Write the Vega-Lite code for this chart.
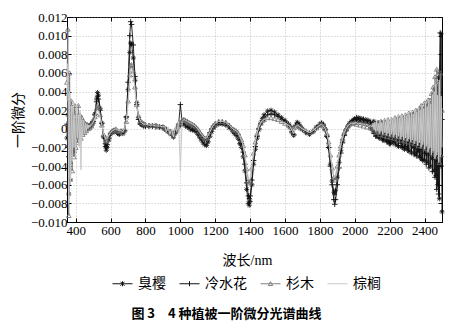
{
"$schema":"https://vega.github.io/schema/vega-lite/v6.json",
"width":375,"height":205,
"autosize":{"type":"none"},
"padding":{"left":67,"top":17,"right":10,"bottom":109},
"background":"white",
"config":{"view":{"stroke":"#000","strokeWidth":1},"font":"Liberation Serif"},
"title":{"text":"图 3　4 种植被一阶微分光谱曲线","orient":"bottom","anchor":"middle","dx":-28,"offset":17,"font":"Noto Sans CJK SC","fontSize":13,"fontWeight":"bold","color":"#000"},
"data":{"values":[
{"w":350,"臭樱":-0.001,"冷水花":0.0005,"杉木":0.005,"棕榈":0.003},
{"w":355,"臭樱":0.0015,"冷水花":-0.002,"杉木":0.0107,"棕榈":0.007},
{"w":360,"臭樱":-0.007,"冷水花":-0.003,"杉木":-0.0093,"棕榈":-0.008},
{"w":365,"臭樱":0.002,"冷水花":0.0015,"杉木":0.006,"棕榈":0.004},
{"w":370,"臭樱":-0.0055,"冷水花":-0.002,"杉木":-0.0035,"棕榈":-0.006},
{"w":375,"臭樱":0.001,"冷水花":0.0025,"杉木":0.003,"棕榈":0.0025},
{"w":380,"臭樱":-0.0025,"冷水花":-0.0015,"杉木":-0.0045,"棕榈":-0.0035},
{"w":385,"臭樱":0.0015,"冷水花":0.0005,"杉木":0.002,"棕榈":0.003},
{"w":390,"臭樱":-0.0015,"冷水花":-0.0025,"杉木":-0.003,"棕榈":-0.002},
{"w":395,"臭樱":0.0005,"冷水花":0.001,"杉木":0.0025,"棕榈":0.0015},
{"w":400,"臭樱":-0.001,"冷水花":-0.0005,"杉木":-0.002,"棕榈":-0.003},
{"w":405,"臭樱":0.001,"冷水花":0.0005,"杉木":0.0015,"棕榈":0.0025},
{"w":410,"臭樱":-0.0008,"冷水花":-0.001,"杉木":-0.0015,"棕榈":-0.001},
{"w":415,"臭樱":0.0006,"冷水花":0.0008,"杉木":0.0025,"棕榈":0.0015},
{"w":420,"臭樱":-0.0005,"冷水花":-0.0004,"杉木":-0.0012,"棕榈":-0.002},
{"w":425,"臭樱":0.0008,"冷水花":0.0005,"杉木":0.0015,"棕榈":0.002},
{"w":430,"臭樱":-0.0003,"冷水花":-0.0006,"杉木":-0.001,"棕榈":-0.0044},
{"w":435,"臭樱":0.0005,"冷水花":0.0003,"杉木":0.0012,"棕榈":0.001},
{"w":440,"臭樱":-0.0002,"冷水花":-0.0002,"杉木":-0.0006,"棕榈":-0.0008},
{"w":445,"臭樱":0.0004,"冷水花":0.0005,"杉木":0.0008,"棕榈":0.0008},
{"w":450,"臭樱":-0.0001,"冷水花":-0.0002,"杉木":-0.0004,"棕榈":-0.0005},
{"w":455,"臭樱":0.0003,"冷水花":0.0003,"杉木":0.0006,"棕榈":0.0006},
{"w":460,"臭樱":0,"冷水花":0,"杉木":-0.0002,"棕榈":-0.0003},
{"w":465,"臭樱":0.0003,"冷水花":0.0003,"杉木":0.0005,"棕榈":0.0005},
{"w":470,"臭樱":0.0001,"冷水花":0.0001,"杉木":0,"棕榈":0},
{"w":475,"臭樱":0.0003,"冷水花":0.0003,"杉木":0.0004,"棕榈":0.0004},
{"w":480,"臭樱":0.0002,"冷水花":0.0002,"杉木":0.0001,"棕榈":0.0002},
{"w":485,"臭樱":0.0004,"冷水花":0.0004,"杉木":0.0004,"棕榈":0.0004},
{"w":490,"臭樱":0.0004,"冷水花":0.0004,"杉木":0.0003,"棕榈":0.0004},
{"w":495,"臭樱":0.0006,"冷水花":0.0006,"杉木":0.0006,"棕榈":0.0005},
{"w":500,"臭樱":0.0008,"冷水花":0.0008,"杉木":0.0008,"棕榈":0.0007},
{"w":510,"臭樱":0.0016,"冷水花":0.0015,"杉木":0.0013,"棕榈":0.0011},
{"w":520,"臭樱":0.0032,"冷水花":0.0029,"杉木":0.0022,"棕榈":0.0018},
{"w":525,"臭樱":0.0039,"冷水花":0.0035,"杉木":0.0025,"棕榈":0.002},
{"w":530,"臭樱":0.0036,"冷水花":0.0032,"杉木":0.0023,"棕榈":0.0019},
{"w":540,"臭樱":0.0022,"冷水花":0.002,"杉木":0.0015,"棕榈":0.0013},
{"w":550,"臭樱":0.0006,"冷水花":0.0006,"杉木":0.0004,"棕榈":0.0004},
{"w":560,"臭樱":-0.0009,"冷水花":-0.0008,"杉木":-0.0006,"棕榈":-0.0005},
{"w":570,"臭樱":-0.0019,"冷水花":-0.0016,"杉木":-0.0012,"棕榈":-0.001},
{"w":575,"臭樱":-0.0023,"冷水花":-0.0019,"杉木":-0.0013,"棕榈":-0.0011},
{"w":580,"臭樱":-0.002,"冷水花":-0.0017,"杉木":-0.0012,"棕榈":-0.001},
{"w":590,"臭樱":-0.0012,"冷水花":-0.001,"杉木":-0.0008,"棕榈":-0.0007},
{"w":600,"臭樱":-0.0006,"冷水花":-0.0005,"杉木":-0.0004,"棕榈":-0.0004},
{"w":610,"臭樱":-0.0004,"冷水花":-0.0003,"杉木":-0.0002,"棕榈":-0.0002},
{"w":620,"臭樱":-0.0003,"冷水花":-0.0002,"杉木":-0.0001,"棕榈":-0.0001},
{"w":630,"臭樱":-0.0002,"冷水花":-0.0002,"杉木":0,"棕榈":0},
{"w":640,"臭樱":-0.0005,"冷水花":-0.0004,"杉木":-0.0002,"棕榈":-0.0001},
{"w":650,"臭樱":-0.0006,"冷水花":-0.0005,"杉木":-0.0003,"棕榈":-0.0002},
{"w":660,"臭樱":-0.0004,"冷水花":-0.0003,"杉木":-0.0002,"棕榈":-0.0002},
{"w":670,"臭樱":-0.0005,"冷水花":-0.0004,"杉木":-0.0004,"棕榈":-0.0003},
{"w":680,"臭樱":-0.0002,"冷水花":-0.0002,"杉木":-0.0001,"棕榈":0},
{"w":690,"臭樱":0.0012,"冷水花":0.0013,"杉木":0.0008,"棕榈":0.0008},
{"w":700,"臭樱":0.0042,"冷水花":0.005,"杉木":0.003,"棕榈":0.0028},
{"w":710,"臭樱":0.0082,"冷水花":0.01,"杉木":0.0058,"棕榈":0.0055},
{"w":715,"臭樱":0.0092,"冷水花":0.0115,"杉木":0.0068,"棕榈":0.0064},
{"w":720,"臭樱":0.0091,"冷水花":0.0112,"杉木":0.0069,"棕榈":0.0065},
{"w":730,"臭樱":0.0076,"冷水花":0.009,"杉木":0.0062,"棕榈":0.0058},
{"w":740,"臭樱":0.0052,"冷水花":0.0056,"杉木":0.0045,"棕榈":0.0041},
{"w":750,"臭樱":0.0028,"冷水花":0.0026,"杉木":0.0026,"棕榈":0.0024},
{"w":760,"臭樱":0.0012,"冷水花":0.001,"杉木":0.0014,"棕榈":0.0013},
{"w":770,"臭樱":0.0006,"冷水花":0.0005,"杉木":0.0009,"棕榈":0.0008},
{"w":780,"臭樱":0.0005,"冷水花":0.0004,"杉木":0.0007,"棕榈":0.0006},
{"w":790,"臭樱":0.0004,"冷水花":0.0003,"杉木":0.0006,"棕榈":0.0005},
{"w":800,"臭樱":0.0003,"冷水花":0.0003,"杉木":0.0005,"棕榈":0.0005},
{"w":820,"臭樱":0.0003,"冷水花":0.0003,"杉木":0.0004,"棕榈":0.0004},
{"w":840,"臭樱":0.0003,"冷水花":0.0003,"杉木":0.0004,"棕榈":0.0004},
{"w":860,"臭樱":0.0003,"冷水花":0.0002,"杉木":0.0004,"棕榈":0.0003},
{"w":880,"臭樱":0.0002,"冷水花":0.0002,"杉木":0.0003,"棕榈":0.0003},
{"w":900,"臭樱":0.0002,"冷水花":0.0001,"杉木":0.0002,"棕榈":0.0002},
{"w":910,"臭樱":0,"冷水花":0,"杉木":0.0001,"棕榈":0.0003},
{"w":920,"臭樱":-0.0001,"冷水花":-0.0001,"杉木":0,"棕榈":-0.0003},
{"w":930,"臭樱":-0.0003,"冷水花":-0.0002,"杉木":-0.0002,"棕榈":0.0002},
{"w":940,"臭樱":-0.0005,"冷水花":-0.0003,"杉木":-0.0003,"棕榈":-0.0006},
{"w":950,"臭樱":-0.0006,"冷水花":-0.0004,"杉木":-0.0004,"棕榈":0},
{"w":960,"臭樱":-0.0009,"冷水花":-0.0005,"杉木":-0.0005,"棕榈":-0.0009},
{"w":970,"臭樱":-0.0005,"冷水花":-0.0003,"杉木":-0.0002,"棕榈":0.0002},
{"w":980,"臭樱":-0.0002,"冷水花":0,"杉木":0.0002,"棕榈":-0.0003},
{"w":990,"臭樱":0.0003,"冷水花":0.0005,"杉木":0.0006,"棕榈":0.0008},
{"w":1000,"臭樱":0.0004,"冷水花":0.0026,"杉木":0.0007,"棕榈":-0.0045},
{"w":1010,"臭樱":0.0005,"冷水花":0.0008,"杉木":0.0009,"棕榈":0.0008},
{"w":1020,"臭樱":0.0006,"冷水花":0.0009,"杉木":0.001,"棕榈":0.001},
{"w":1030,"臭樱":0.0003,"冷水花":0.0008,"杉木":0.0009,"棕榈":0.0009},
{"w":1040,"臭樱":0.0002,"冷水花":0.0007,"杉木":0.0008,"棕榈":0.0008},
{"w":1050,"臭樱":0.0001,"冷水花":0.0005,"杉木":0.0007,"棕榈":0.0007},
{"w":1060,"臭樱":-0.0001,"冷水花":0.0004,"杉木":0.0006,"棕榈":0.0006},
{"w":1070,"臭樱":-0.0001,"冷水花":0.0003,"杉木":0.0005,"棕榈":0.0005},
{"w":1080,"臭樱":-0.0002,"冷水花":0.0002,"杉木":0.0004,"棕榈":0.0004},
{"w":1090,"臭樱":-0.0003,"冷水花":0,"杉木":0.0002,"棕榈":0.0002},
{"w":1100,"臭樱":-0.0006,"冷水花":-0.0003,"杉木":0,"棕榈":0},
{"w":1110,"臭樱":-0.0009,"冷水花":-0.0005,"杉木":-0.0003,"棕榈":-0.0003},
{"w":1120,"臭樱":-0.0012,"冷水花":-0.0008,"杉木":-0.0006,"棕榈":-0.0006},
{"w":1130,"臭樱":-0.0015,"冷水花":-0.001,"杉木":-0.0008,"棕榈":-0.0008},
{"w":1140,"臭樱":-0.0017,"冷水花":-0.0012,"杉木":-0.001,"棕榈":-0.001},
{"w":1150,"臭樱":-0.0018,"冷水花":-0.0012,"杉木":-0.001,"棕榈":-0.001},
{"w":1160,"臭樱":-0.0014,"冷水花":-0.0009,"杉木":-0.0007,"棕榈":-0.0007},
{"w":1170,"臭樱":-0.0008,"冷水花":-0.0004,"杉木":-0.0003,"棕榈":-0.0003},
{"w":1180,"臭樱":-0.0003,"冷水花":0,"杉木":0.0001,"棕榈":0.0001},
{"w":1190,"臭樱":0.0001,"冷水花":0.0003,"杉木":0.0004,"棕榈":0.0004},
{"w":1200,"臭樱":0.0003,"冷水花":0.0005,"杉木":0.0006,"棕榈":0.0006},
{"w":1220,"臭樱":0.0005,"冷水花":0.0007,"杉木":0.0008,"棕榈":0.0008},
{"w":1240,"臭樱":0.0005,"冷水花":0.0007,"杉木":0.0008,"棕榈":0.0008},
{"w":1260,"臭樱":0.0004,"冷水花":0.0006,"杉木":0.0007,"棕榈":0.0007},
{"w":1280,"臭樱":0.0001,"冷水花":0.0003,"杉木":0.0004,"棕榈":0.0004},
{"w":1300,"臭樱":-0.0003,"冷水花":-0.0001,"杉木":0,"棕榈":0},
{"w":1310,"臭樱":-0.0005,"冷水花":-0.0002,"杉木":-0.0001,"棕榈":-0.0001},
{"w":1320,"臭樱":-0.0007,"冷水花":-0.0004,"杉木":-0.0002,"棕榈":-0.0002},
{"w":1330,"臭樱":-0.001,"冷水花":-0.0006,"杉木":-0.0004,"棕榈":-0.0004},
{"w":1340,"臭樱":-0.0016,"冷水花":-0.0012,"杉木":-0.0008,"棕榈":-0.0008},
{"w":1350,"臭樱":-0.002,"冷水花":-0.0016,"杉木":-0.0012,"棕榈":-0.0012},
{"w":1360,"臭樱":-0.003,"冷水花":-0.0025,"杉木":-0.0018,"棕榈":-0.0018},
{"w":1370,"臭樱":-0.0045,"冷水花":-0.0038,"杉木":-0.0028,"棕榈":-0.0028},
{"w":1380,"臭樱":-0.0065,"冷水花":-0.0058,"杉木":-0.0043,"棕榈":-0.0042},
{"w":1390,"臭樱":-0.008,"冷水花":-0.0072,"杉木":-0.0056,"棕榈":-0.0053},
{"w":1395,"臭樱":-0.0082,"冷水花":-0.0075,"杉木":-0.0058,"棕榈":-0.0055},
{"w":1400,"臭樱":-0.0078,"冷水花":-0.0072,"杉木":-0.0056,"棕榈":-0.0053},
{"w":1410,"臭樱":-0.006,"冷水花":-0.0055,"杉木":-0.0042,"棕榈":-0.004},
{"w":1420,"臭樱":-0.0038,"冷水花":-0.0034,"杉木":-0.0026,"棕榈":-0.0025},
{"w":1430,"臭樱":-0.0022,"冷水花":-0.0019,"杉木":-0.0014,"棕榈":-0.0014},
{"w":1440,"臭樱":-0.001,"冷水花":-0.0008,"杉木":-0.0005,"棕榈":-0.0005},
{"w":1450,"臭樱":-0.0001,"冷水花":0,"杉木":0.0002,"棕榈":0.0002},
{"w":1460,"臭樱":0.0006,"冷水花":0.0005,"杉木":0.0006,"棕榈":0.0006},
{"w":1470,"臭樱":0.0011,"冷水花":0.0009,"杉木":0.0009,"棕榈":0.0009},
{"w":1480,"臭樱":0.0015,"冷水花":0.0012,"杉木":0.001,"棕榈":0.001},
{"w":1500,"臭樱":0.0019,"冷水花":0.0015,"杉木":0.0012,"棕榈":0.0012},
{"w":1520,"臭樱":0.002,"冷水花":0.0016,"杉木":0.0012,"棕榈":0.0012},
{"w":1540,"臭樱":0.0018,"冷水花":0.0015,"杉木":0.0011,"棕榈":0.0011},
{"w":1560,"臭樱":0.0015,"冷水花":0.0013,"杉木":0.001,"棕榈":0.001},
{"w":1580,"臭樱":0.0012,"冷水花":0.001,"杉木":0.0008,"棕榈":0.0008},
{"w":1600,"臭樱":0.0009,"冷水花":0.0008,"杉木":0.0006,"棕榈":0.0006},
{"w":1620,"臭樱":0.0005,"冷水花":0.0005,"杉木":0.0004,"棕榈":0.0004},
{"w":1630,"臭樱":0.0002,"冷水花":0.0002,"杉木":0.0002,"棕榈":0.0002},
{"w":1640,"臭樱":-0.0004,"冷水花":-0.0003,"杉木":-0.0002,"棕榈":-0.0002},
{"w":1650,"臭樱":-0.0007,"冷水花":-0.0006,"杉木":-0.0005,"棕榈":-0.0005},
{"w":1660,"臭樱":0.0003,"冷水花":0.0003,"杉木":0.0002,"棕榈":0.0002},
{"w":1670,"臭樱":0.0007,"冷水花":0.0006,"杉木":0.0004,"棕榈":0.0004},
{"w":1680,"臭樱":0.0005,"冷水花":0.0004,"杉木":0.0003,"棕榈":0.0003},
{"w":1690,"臭樱":0.0002,"冷水花":0.0001,"杉木":0.0001,"棕榈":0.0001},
{"w":1700,"臭樱":0,"冷水花":-0.0001,"杉木":0,"棕榈":0},
{"w":1720,"臭樱":-0.0004,"冷水花":-0.0004,"杉木":-0.0002,"棕榈":-0.0002},
{"w":1740,"臭樱":-0.0006,"冷水花":-0.0005,"杉木":-0.0004,"棕榈":-0.0004},
{"w":1760,"臭樱":-0.0003,"冷水花":-0.0003,"杉木":-0.0002,"棕榈":-0.0002},
{"w":1780,"臭樱":0.0002,"冷水花":0.0001,"杉木":0.0001,"棕榈":0.0001},
{"w":1800,"臭樱":0.0005,"冷水花":0.0004,"杉木":0.0004,"棕榈":0.0004},
{"w":1810,"臭樱":0.0006,"冷水花":0.0006,"杉木":0.0005,"棕榈":0.0005},
{"w":1820,"臭樱":0.0004,"冷水花":0.0004,"杉木":0.0003,"棕榈":0.0003},
{"w":1830,"臭樱":0,"冷水花":-0.0001,"杉木":0,"棕榈":0},
{"w":1840,"臭樱":-0.0008,"冷水花":-0.0008,"杉木":-0.0005,"棕榈":-0.0005},
{"w":1850,"臭樱":-0.002,"冷水花":-0.002,"杉木":-0.0014,"棕榈":-0.0013},
{"w":1860,"臭樱":-0.0038,"冷水花":-0.004,"杉木":-0.0028,"棕榈":-0.0027},
{"w":1870,"臭樱":-0.0056,"冷水花":-0.006,"杉木":-0.0042,"棕榈":-0.004},
{"w":1880,"臭樱":-0.0068,"冷水花":-0.0076,"杉木":-0.0052,"棕榈":-0.005},
{"w":1885,"臭樱":-0.007,"冷水花":-0.0081,"杉木":-0.0055,"棕榈":-0.0052},
{"w":1890,"臭樱":-0.0066,"冷水花":-0.0076,"杉木":-0.0052,"棕榈":-0.0049},
{"w":1900,"臭樱":-0.0052,"冷水花":-0.006,"杉木":-0.004,"棕榈":-0.0038},
{"w":1910,"臭樱":-0.0036,"冷水花":-0.0042,"杉木":-0.0028,"棕榈":-0.0027},
{"w":1920,"臭樱":-0.0023,"冷水花":-0.0026,"杉木":-0.0018,"棕榈":-0.0017},
{"w":1930,"臭樱":-0.0013,"冷水花":-0.0015,"杉木":-0.001,"棕榈":-0.001},
{"w":1940,"臭樱":-0.0006,"冷水花":-0.0007,"杉木":-0.0004,"棕榈":-0.0004},
{"w":1950,"臭樱":-0.0001,"冷水花":-0.0002,"杉木":0,"棕榈":0},
{"w":1960,"臭樱":0.0003,"冷水花":0.0002,"杉木":0.0003,"棕榈":0.0003},
{"w":1970,"臭樱":0.0006,"冷水花":0.0005,"杉木":0.0005,"棕榈":0.0005},
{"w":1980,"臭樱":0.0008,"冷水花":0.0007,"杉木":0.0006,"棕榈":0.0006},
{"w":1990,"臭樱":0.0009,"冷水花":0.0009,"杉木":0.0006,"棕榈":0.0006},
{"w":2000,"臭樱":0.0011,"冷水花":0.001,"杉木":0.0007,"棕榈":0.0006},
{"w":2010,"臭樱":0.0008,"冷水花":0.0012,"杉木":0.0005,"棕榈":0.0007},
{"w":2020,"臭樱":0.0012,"冷水花":0.0009,"杉木":0.0007,"棕榈":0.0005},
{"w":2030,"臭樱":0.0007,"冷水花":0.0011,"杉木":0.0004,"棕榈":0.0006},
{"w":2040,"臭樱":0.0011,"冷水花":0.0008,"杉木":0.0007,"棕榈":0.0005},
{"w":2050,"臭樱":0.0006,"冷水花":0.001,"杉木":0.0003,"棕榈":0.0005},
{"w":2060,"臭樱":0.001,"冷水花":0.0007,"杉木":0.0006,"棕榈":0.0004},
{"w":2070,"臭樱":0.0005,"冷水花":0.0009,"杉木":0.0002,"棕榈":0.0005},
{"w":2080,"臭樱":0.0009,"冷水花":0.0004,"杉木":0.0005,"棕榈":0.0002},
{"w":2090,"臭樱":0.0002,"冷水花":0.0007,"杉木":0.0001,"棕榈":0.0004},
{"w":2100,"臭樱":0.0006,"冷水花":-0.0001,"杉木":0.0004,"棕榈":0.0002},
{"w":2105,"臭樱":-0.0002,"冷水花":0.0007,"杉木":0,"棕榈":0.0006},
{"w":2110,"臭樱":0.0008,"冷水花":-0.0005,"杉木":0.0006,"棕榈":-0.0001},
{"w":2115,"臭樱":-0.0004,"冷水花":0.0005,"杉木":-0.0002,"棕榈":0.0007},
{"w":2120,"臭樱":0.0003,"冷水花":-0.0008,"杉木":0.0005,"棕榈":-0.0003},
{"w":2125,"臭樱":-0.0007,"冷水花":0.0004,"杉木":-0.0004,"棕榈":0.0008},
{"w":2130,"臭樱":0.0005,"冷水花":-0.0003,"杉木":0.0007,"棕榈":-0.0002},
{"w":2135,"臭樱":-0.0009,"冷水花":0.0006,"杉木":-0.0003,"棕榈":0.0006},
{"w":2140,"臭樱":0.0001,"冷水花":-0.001,"杉木":0.0004,"棕榈":-0.0005},
{"w":2145,"臭樱":-0.0006,"冷水花":0.0002,"杉木":-0.0006,"棕榈":0.0009},
{"w":2150,"臭樱":0.0007,"冷水花":-0.0006,"杉木":0.0008,"棕榈":-0.0003},
{"w":2155,"臭樱":-0.001,"冷水花":0.0005,"杉木":-0.0002,"棕榈":0.0007},
{"w":2160,"臭樱":0.0002,"冷水花":-0.0012,"杉木":0.0005,"棕榈":-0.0006},
{"w":2165,"臭樱":-0.0012,"冷水花":0.0003,"杉木":-0.0007,"棕榈":0.001},
{"w":2170,"臭樱":0.0004,"冷水花":-0.0008,"杉木":0.0009,"棕榈":-0.0004},
{"w":2175,"臭樱":-0.0005,"冷水花":0.0006,"杉木":-0.0004,"棕榈":0.0008},
{"w":2180,"臭樱":-0.0013,"冷水花":-0.0002,"杉木":0.0003,"棕榈":-0.0007},
{"w":2185,"臭樱":0.0003,"冷水花":-0.0014,"杉木":-0.0008,"棕榈":0.0011},
{"w":2190,"臭樱":-0.0009,"冷水花":0.0004,"杉木":0.001,"棕榈":-0.0005},
{"w":2195,"臭樱":-0.0015,"冷水花":-0.0007,"杉木":-0.0005,"棕榈":0.0009},
{"w":2200,"臭樱":0,"冷水花":-0.0016,"杉木":0.0002,"棕榈":-0.0008},
{"w":2205,"臭樱":-0.0016,"冷水花":0.0005,"杉木":-0.0009,"棕榈":0.0012},
{"w":2210,"臭樱":-0.0004,"冷水花":-0.0011,"杉木":0.001,"棕榈":-0.0006},
{"w":2215,"臭樱":-0.0012,"冷水花":0.0006,"杉木":-0.0003,"棕榈":0.001},
{"w":2220,"臭樱":0.0005,"冷水花":-0.0015,"杉木":0.0007,"棕榈":-0.0009},
{"w":2225,"臭樱":-0.0014,"冷水花":0.0002,"杉木":-0.001,"棕榈":0.0013},
{"w":2230,"臭樱":-0.0002,"冷水花":0.0008,"杉木":0.0012,"棕榈":-0.0007},
{"w":2235,"臭樱":-0.0017,"冷水花":-0.0013,"杉木":-0.0006,"棕榈":0.0011},
{"w":2240,"臭樱":0.0006,"冷水花":-0.0003,"杉木":0.0009,"棕榈":-0.001},
{"w":2245,"臭樱":-0.0011,"冷水花":0.0009,"杉木":-0.0011,"棕榈":0.0014},
{"w":2250,"臭樱":-0.0019,"冷水花":-0.0018,"杉木":0.0013,"棕榈":-0.0008},
{"w":2255,"臭樱":0.0004,"冷水花":-0.0006,"杉木":-0.0004,"棕榈":0.0012},
{"w":2260,"臭樱":-0.0013,"冷水花":0.001,"杉木":0.001,"棕榈":-0.0011},
{"w":2265,"臭樱":0.0008,"冷水花":-0.0016,"杉木":-0.0012,"棕榈":0.0015},
{"w":2270,"臭樱":-0.002,"冷水花":0.0005,"杉木":0.0014,"棕榈":-0.0009},
{"w":2275,"臭樱":-0.0005,"冷水花":-0.002,"杉木":-0.0008,"棕榈":0.0013},
{"w":2280,"臭樱":0.0009,"冷水花":-0.0004,"杉木":0.0011,"棕榈":-0.0012},
{"w":2285,"臭樱":-0.0022,"冷水花":0.0011,"杉木":-0.0013,"棕榈":0.0016},
{"w":2290,"臭樱":-0.0008,"冷水花":-0.0019,"杉木":0.0015,"棕榈":-0.001},
{"w":2295,"臭樱":0.001,"冷水花":-0.0009,"杉木":-0.0006,"棕榈":0.0014},
{"w":2300,"臭樱":-0.0021,"冷水花":0.0012,"杉木":0.0012,"棕榈":-0.0013},
{"w":2305,"臭樱":0.0003,"冷水花":-0.0023,"杉木":-0.0014,"棕榈":0.0017},
{"w":2310,"臭樱":-0.0024,"冷水花":0.0007,"杉木":0.0017,"棕榈":-0.0011},
{"w":2315,"臭樱":0.0012,"冷水花":-0.0014,"杉木":-0.0009,"棕榈":0.0015},
{"w":2320,"臭樱":-0.0016,"冷水花":0.0013,"杉木":0.0013,"棕榈":-0.0014},
{"w":2325,"臭樱":-0.0026,"冷水花":-0.0024,"杉木":-0.0015,"棕榈":0.0019},
{"w":2330,"臭樱":0.0008,"冷水花":-0.0003,"杉木":0.0018,"棕榈":-0.0012},
{"w":2335,"臭樱":-0.002,"冷水花":0.0015,"杉木":-0.0007,"棕榈":0.0016},
{"w":2340,"臭樱":0.0014,"冷水花":-0.0026,"杉木":0.0015,"棕榈":-0.0016},
{"w":2345,"臭樱":-0.0028,"冷水花":0.0009,"杉木":-0.0016,"棕榈":0.0021},
{"w":2350,"臭樱":-0.0006,"冷水花":-0.0018,"杉木":0.002,"棕榈":-0.0013},
{"w":2355,"臭樱":0.0015,"冷水花":-0.0029,"杉木":-0.001,"棕榈":0.0018},
{"w":2360,"臭樱":-0.0025,"冷水花":0.0016,"杉木":0.0017,"棕榈":-0.0018},
{"w":2365,"臭樱":0.0002,"冷水花":-0.0022,"杉木":-0.0018,"棕榈":0.0023},
{"w":2370,"臭樱":-0.003,"冷水花":0.0004,"杉木":0.0022,"棕榈":-0.0015},
{"w":2375,"臭樱":0.0016,"冷水花":-0.0031,"杉木":-0.0012,"棕榈":0.002},
{"w":2380,"臭樱":-0.0022,"冷水花":0.0018,"杉木":0.0025,"棕榈":-0.002},
{"w":2385,"臭樱":-0.0033,"冷水花":-0.0008,"杉木":-0.0019,"棕榈":0.0025},
{"w":2390,"臭樱":0.0018,"冷水花":-0.0034,"杉木":0.002,"棕榈":-0.0017},
{"w":2395,"臭樱":-0.0015,"冷水花":0.0021,"杉木":-0.0014,"棕榈":0.0022},
{"w":2400,"臭樱":-0.0034,"冷水花":-0.0026,"杉木":0.0028,"棕榈":-0.0022},
{"w":2405,"臭樱":0.002,"冷水花":0.0005,"杉木":-0.0021,"棕榈":0.0028},
{"w":2410,"臭樱":-0.0027,"冷水花":-0.0038,"杉木":0.0024,"棕榈":-0.0019},
{"w":2415,"臭樱":0.0006,"冷水花":0.0024,"杉木":-0.0016,"棕榈":0.0024},
{"w":2420,"臭樱":-0.0036,"冷水花":-0.0016,"杉木":0.0031,"棕榈":-0.0025},
{"w":2425,"臭樱":0.0022,"冷水花":-0.0042,"杉木":-0.0023,"棕榈":0.0031},
{"w":2430,"臭樱":-0.0018,"冷水花":0.0027,"杉木":0.0028,"棕榈":-0.0021},
{"w":2435,"臭樱":-0.004,"冷水花":-0.0028,"杉木":-0.002,"棕榈":0.0027},
{"w":2440,"臭樱":0.0026,"冷水花":0.0032,"杉木":0.0038,"棕榈":-0.0028},
{"w":2445,"臭樱":-0.0032,"冷水花":-0.0046,"杉木":-0.0026,"棕榈":0.0036},
{"w":2450,"臭樱":0.003,"冷水花":0.0008,"杉木":0.0045,"棕榈":-0.0024},
{"w":2455,"臭樱":-0.0045,"冷水花":0.0038,"杉木":-0.0022,"棕榈":0.004},
{"w":2460,"臭樱":0.0042,"冷水花":-0.0052,"杉木":0.0056,"棕榈":-0.0032},
{"w":2465,"臭樱":-0.005,"冷水花":0.0025,"杉木":-0.003,"棕榈":0.0048},
{"w":2470,"臭樱":0.0015,"冷水花":-0.0065,"杉木":0.0064,"棕榈":-0.0028},
{"w":2475,"臭樱":-0.006,"冷水花":0.0045,"杉木":-0.0025,"棕榈":0.0036},
{"w":2480,"臭樱":0.0055,"冷水花":-0.007,"杉木":0.005,"棕榈":-0.0036},
{"w":2485,"臭樱":-0.0075,"冷水花":0.006,"杉木":-0.0036,"棕榈":0.0052},
{"w":2490,"臭樱":0.002,"冷水花":0.0103,"杉木":0.006,"棕榈":-0.003},
{"w":2495,"臭樱":0.0102,"冷水花":-0.004,"杉木":-0.0028,"棕榈":0.0035},
{"w":2500,"臭樱":-0.0089,"冷水花":0.001,"杉木":0.002,"棕榈":-0.002}
]},
"transform":[{"fold":["臭樱","冷水花","杉木","棕榈"],"as":["s","v"]}],
"layer":[
{"transform":[{"filter":"datum.s === '臭樱'"}],
 "mark":{"type":"line","strokeWidth":0.9},
 "encoding":{
  "x":{"field":"w","type":"quantitative","scale":{"domain":[350,2500],"nice":false,"zero":false},
   "axis":{"values":[400,600,800,1000,1200,1400,1600,1800,2000,2200,2400],"format":"d","title":"波长/nm","titleFont":"Liberation Serif, Noto Sans CJK SC","titleFontSize":14,"titleFontWeight":"normal","titleColor":"#000","titleX":180,"titlePadding":16,"labelFont":"Liberation Serif","labelFontSize":13,"labelColor":"#000","labelPadding":6,"labelFlush":false,"tickSize":-4,"tickColor":"#000","domainColor":"#000","grid":true,"gridDash":[1,2],"gridColor":"#999","gridWidth":0.6}},
  "y":{"field":"v","type":"quantitative","scale":{"domain":[-0.01,0.012],"nice":false,"zero":false},
   "axis":{"values":[-0.01,-0.008,-0.006,-0.004,-0.002,0,0.002,0.004,0.006,0.008,0.01,0.012],"labelExpr":"abs(datum.value) < 1e-9 ? '0' : replace(format(datum.value, '.3f'), '-', '−')","title":"一阶微分","titleFont":"Noto Sans CJK SC","titleFontSize":14,"titleFontWeight":"normal","titleColor":"#000","titlePadding":5,"labelFont":"Liberation Serif","labelFontSize":13,"labelColor":"#000","labelPadding":4,"labelFlush":false,"tickSize":-4,"tickColor":"#000","domainColor":"#000","grid":true,"gridDash":[1,2],"gridColor":"#999","gridWidth":0.6}},
  "color":{"field":"s","type":"nominal","scale":{"domain":["臭樱","冷水花","杉木","棕榈"],"range":["#111111","#111111","#808080","#c8c8c8"]},
   "legend":{"orient":"none","legendX":45,"legendY":256,"direction":"horizontal","title":null,"labelFont":"Noto Sans CJK SC","labelFontSize":14,"labelColor":"#000","symbolSize":400,"symbolStrokeWidth":1,"symbolType":"stroke","columnPadding":11,"labelOffset":5,
    "encode":{"symbols":{"update":{"shape":{"signal":"datum.value === '臭樱' ? 'M-1,0L1,0M-0.2,-0.2L0.2,0.2M-0.2,0.2L0.2,-0.2M0,-0.25L0,0.25' : datum.value === '冷水花' ? 'M-1,0L1,0M0,-0.25L0,0.25' : datum.value === '杉木' ? 'M-1,0L1,0M-0.22,0.18L0,-0.22L0.22,0.18Z' : 'M-1,0L1,0'"}}}}}}}},
{"transform":[{"filter":"datum.s === '臭樱'"}],
 "mark":{"type":"point","shape":"M-1,0L1,0M0,-1L0,1M-0.7,-0.7L0.7,0.7M-0.7,0.7L0.7,-0.7","filled":false,"stroke":"#111","strokeWidth":0.8,"size":26,"opacity":1},
 "encoding":{"x":{"field":"w","type":"quantitative","axis":null},"y":{"field":"v","type":"quantitative","axis":null}}},
{"transform":[{"filter":"datum.s === '冷水花'"}],
 "mark":{"type":"line","strokeWidth":0.9},
 "encoding":{"x":{"field":"w","type":"quantitative","axis":null},"y":{"field":"v","type":"quantitative","axis":null},"color":{"field":"s","type":"nominal"}}},
{"transform":[{"filter":"datum.s === '冷水花'"}],
 "mark":{"type":"point","shape":"M-1,0L1,0M0,-1L0,1","filled":false,"stroke":"#111","strokeWidth":0.9,"size":30,"opacity":1},
 "encoding":{"x":{"field":"w","type":"quantitative","axis":null},"y":{"field":"v","type":"quantitative","axis":null}}},
{"transform":[{"filter":"datum.s === '杉木'"}],
 "mark":{"type":"line","strokeWidth":0.9},
 "encoding":{"x":{"field":"w","type":"quantitative","axis":null},"y":{"field":"v","type":"quantitative","axis":null},"color":{"field":"s","type":"nominal"}}},
{"transform":[{"filter":"datum.s === '杉木'"}],
 "mark":{"type":"point","shape":"triangle-up","filled":false,"stroke":"#707070","strokeWidth":0.8,"size":22,"opacity":1},
 "encoding":{"x":{"field":"w","type":"quantitative","axis":null},"y":{"field":"v","type":"quantitative","axis":null}}},
{"transform":[{"filter":"datum.s === '棕榈'"}],
 "mark":{"type":"line","strokeWidth":1},
 "encoding":{
  "x":{"field":"w","type":"quantitative","axis":{"orient":"top","values":[400,600,800,1000,1200,1400,1600,1800,2000,2200,2400],"labels":false,"title":null,"grid":false,"domain":false,"tickSize":-4,"tickColor":"#000"}},
  "y":{"field":"v","type":"quantitative","axis":{"orient":"right","values":[-0.01,-0.008,-0.006,-0.004,-0.002,0,0.002,0.004,0.006,0.008,0.01,0.012],"labels":false,"title":null,"grid":false,"domain":false,"tickSize":-4,"tickColor":"#000"}},
  "color":{"field":"s","type":"nominal"}}}
],
"resolve":{"axis":{"x":"independent","y":"independent"}}
}
